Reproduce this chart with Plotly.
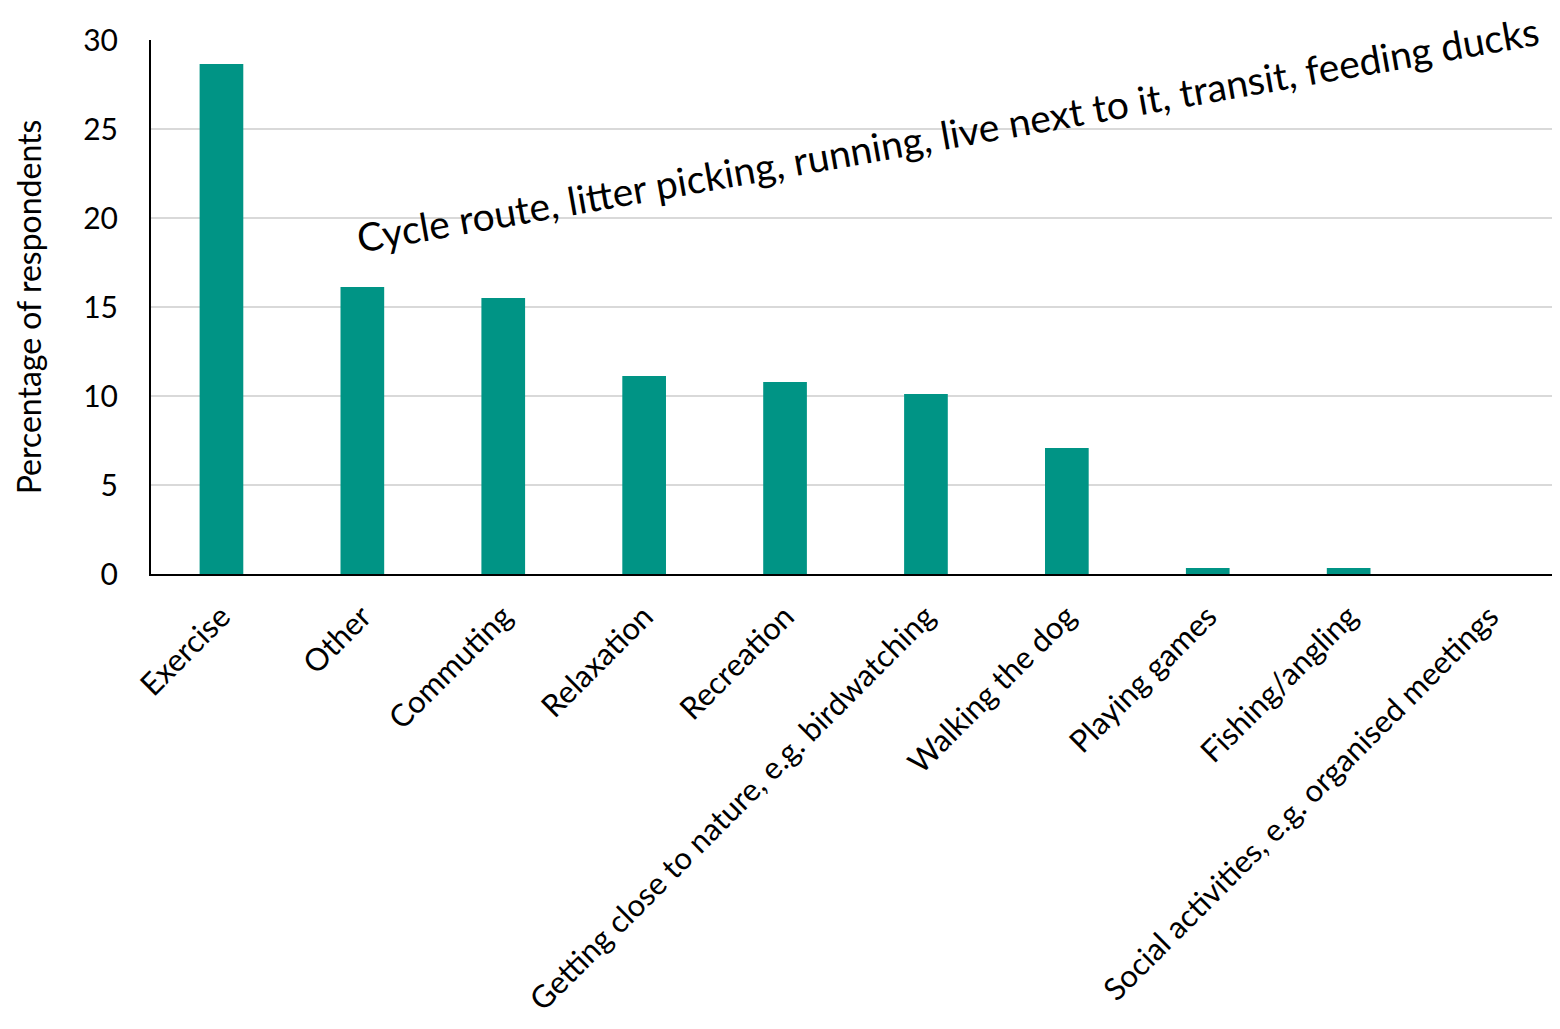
import plotly.graph_objects as go

# survey categories and share of respondents (%)
activities = [
    "Exercise", "Other", "Commuting", "Relaxation", "Recreation",
    "Getting close to nature, e.g. birdwatching", "Walking the dog",
    "Playing games", "Fishing/angling", "Social activities, e.g. organised meetings",
]
pct_respondents = [28.65, 16.12, 15.5, 11.12, 10.79, 10.11, 7.08, 0.34, 0.34, 0.0]
y_ticks = [0, 5, 10, 15, 20, 25, 30]
other_note = "Cycle route, litter picking, running, live next to it, transit, feeding ducks"

FONT = "Lato, 'Open Sans', sans-serif"

fig = go.Figure()
fig.add_trace(go.Bar(x=activities, y=pct_respondents, marker_color="#009485",
                     marker_line_width=0))

# page body adds an 8px offset, so size the figure to fill the rest
fig.update_layout(
    width=1552, height=1021,
    margin=dict(l=143, r=0, t=32, b=455),
    plot_bgcolor="white", paper_bgcolor="white",
    bargap=0.69,
    showlegend=False,
    font=dict(family=FONT, color="black", size=26),
)

# y-axis
fig.update_yaxes(
    range=[0, 30], tickvals=y_ticks, showgrid=True, gridcolor="#d9d9d9",
    gridwidth=2, showline=True, linecolor="black", linewidth=2,
    ticks="", ticklabelstandoff=25, zeroline=False, automargin=False,
    tickfont=dict(size=30),
    title=dict(text="Percentage of respondents", font=dict(size=32), standoff=32),
)

# x-axis
fig.update_xaxes(
    showline=True, linecolor="black", linewidth=2, tickangle=-45,
    ticks="", ticklabelstandoff=10, tickfont=dict(size=31), automargin=False,
)

# note for the "Other" answers
fig.add_annotation(
    text=other_note, xref="paper", yref="y", x=0.565, y=24.7,
    showarrow=False, textangle=-10, font=dict(size=39, family=FONT, color="black"),
)

fig.write_html("out.html")
